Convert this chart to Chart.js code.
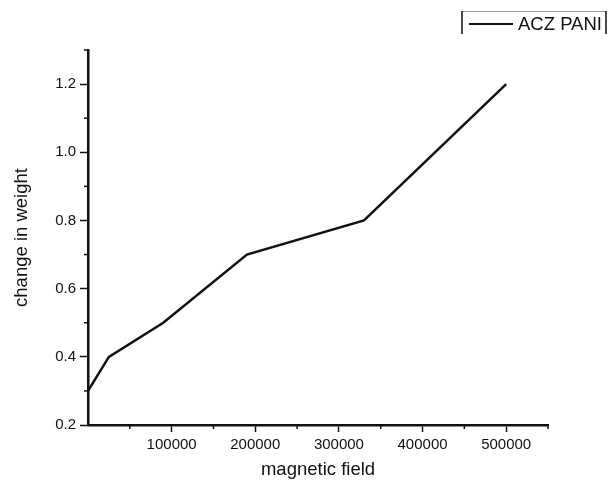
<!DOCTYPE html>
<html>
<head>
<meta charset="utf-8">
<script src="https://cdn.jsdelivr.net/npm/chart.js@4.4.0/dist/chart.umd.min.js"></script>
<style>
  html, body { margin: 0; padding: 0; background: #fff; }
  #wrap { width: 609px; height: 482px; position: relative; }
</style>
</head>
<body>
<div id="wrap"><canvas id="c" width="609" height="482"></canvas></div>
<script>
// ---- data ----
const seriesLabel = 'ACZ PANI';
const magneticField = [0, 25000, 90000, 190000, 330000, 500000];
const changeInWeight = [0.3, 0.4, 0.5, 0.7, 0.8, 1.2];
const xTitle = 'magnetic field';
const yTitle = 'change in weight';

const FONT = '"Liberation Sans", Arial, sans-serif';
const INK = '#111111';

function isMajorY(v) { return Math.round(v * 10) % 2 === 0; }
function isMajorX(v) { return Math.round(v) % 100000 === 0 && Math.round(v) !== 0; }

const minorTicks = {
  id: 'minorTicks',
  afterDraw(chart) {
    const ctx = chart.ctx;
    const xs = chart.scales.x, ys = chart.scales.y;
    ctx.save();
    ctx.strokeStyle = INK;
    ctx.lineWidth = 1.5;
    ys.ticks.forEach((t, i) => {
      if (!isMajorY(t.value)) {
        const py = ys.getPixelForTick(i);
        ctx.beginPath();
        ctx.moveTo(ys.right - 4, py);
        ctx.lineTo(ys.right, py);
        ctx.stroke();
      }
    });
    xs.ticks.forEach((t, i) => {
      if (!isMajorX(t.value) && t.value !== 0) {
        const px = xs.getPixelForTick(i);
        ctx.beginPath();
        ctx.moveTo(px, xs.top);
        ctx.lineTo(px, xs.top + 4);
        ctx.stroke();
      }
    });
    ctx.restore();
  }
};

const boxLegend = {
  id: 'boxLegend',
  afterDraw(chart) {
    const ctx = chart.ctx;
    const ds = chart.data.datasets[0];
    const right = chart.width - 3;
    const left = right - 144;
    const top = 11, bottom = 34;
    ctx.save();
    ctx.strokeStyle = '#999';
    ctx.lineWidth = 1;
    ctx.beginPath();
    ctx.moveTo(left, top + 0.5); ctx.lineTo(right, top + 0.5);
    ctx.stroke();
    ctx.strokeStyle = INK;
    ctx.lineWidth = 1.5;
    ctx.beginPath();
    ctx.moveTo(left, top); ctx.lineTo(left, bottom);
    ctx.moveTo(right, top); ctx.lineTo(right, bottom);
    ctx.stroke();
    const cy = 24;
    ctx.strokeStyle = ds.borderColor;
    ctx.lineWidth = 2;
    ctx.beginPath();
    ctx.moveTo(left + 7, cy); ctx.lineTo(left + 51, cy);
    ctx.stroke();
    ctx.fillStyle = INK;
    ctx.font = '18.5px ' + FONT;
    ctx.textBaseline = 'middle';
    ctx.textAlign = 'left';
    ctx.fillText(ds.label, left + 56, cy + 0.5);
    ctx.restore();
  }
};

new Chart(document.getElementById('c'), {
  type: 'line',
  data: {
    datasets: [{
      label: seriesLabel,
      data: magneticField.map((x, i) => ({ x: x, y: changeInWeight[i] })),
      borderColor: INK,
      borderWidth: 2.5,
      pointRadius: 0,
      tension: 0,
      fill: false
    }]
  },
  options: {
    responsive: false,
    animation: false,
    layout: { padding: { top: 50, right: 61, bottom: 0, left: 0 } },
    plugins: { legend: { display: false }, tooltip: { enabled: false } },
    scales: {
      x: {
        type: 'linear',
        min: 0, max: 550000,
        afterFit(s) { s.height = 57; },
        border: { display: true, color: INK, width: 2.5 },
        grid: {
          drawOnChartArea: false, drawTicks: true, tickLength: 7, tickWidth: 1.5,
          tickColor: (c) => (c.tick && isMajorX(c.tick.value)) ? INK : 'rgba(0,0,0,0)'
        },
        ticks: {
          stepSize: 50000,
          autoSkip: false,
          maxRotation: 0,
          padding: 4,
          color: INK,
          font: { family: FONT, size: 15 },
          callback: (v) => isMajorX(v) ? String(Math.round(v)) : ''
        },
        title: {
          display: true, text: xTitle, color: INK,
          font: { family: FONT, size: 18.5 },
          padding: { top: 1, bottom: 1 }
        }
      },
      y: {
        type: 'linear',
        min: 0.2, max: 1.3,
        afterFit(s) { s.width = 88; },
        border: { display: true, color: INK, width: 2.5 },
        grid: {
          drawOnChartArea: false, drawTicks: true, tickLength: 8, tickWidth: 1.5,
          tickColor: (c) => (c.tick && isMajorY(c.tick.value)) ? INK : 'rgba(0,0,0,0)'
        },
        ticks: {
          stepSize: 0.1,
          autoSkip: false,
          padding: 4,
          color: INK,
          font: { family: FONT, size: 15 },
          callback: (v) => isMajorY(v) ? v.toFixed(1) : ''
        },
        title: {
          display: true, text: yTitle, color: INK,
          font: { family: FONT, size: 18.5 },
          padding: { top: 10.5, bottom: 10.5 }
        }
      }
    }
  },
  plugins: [minorTicks, boxLegend]
});
</script>
</body>
</html>
